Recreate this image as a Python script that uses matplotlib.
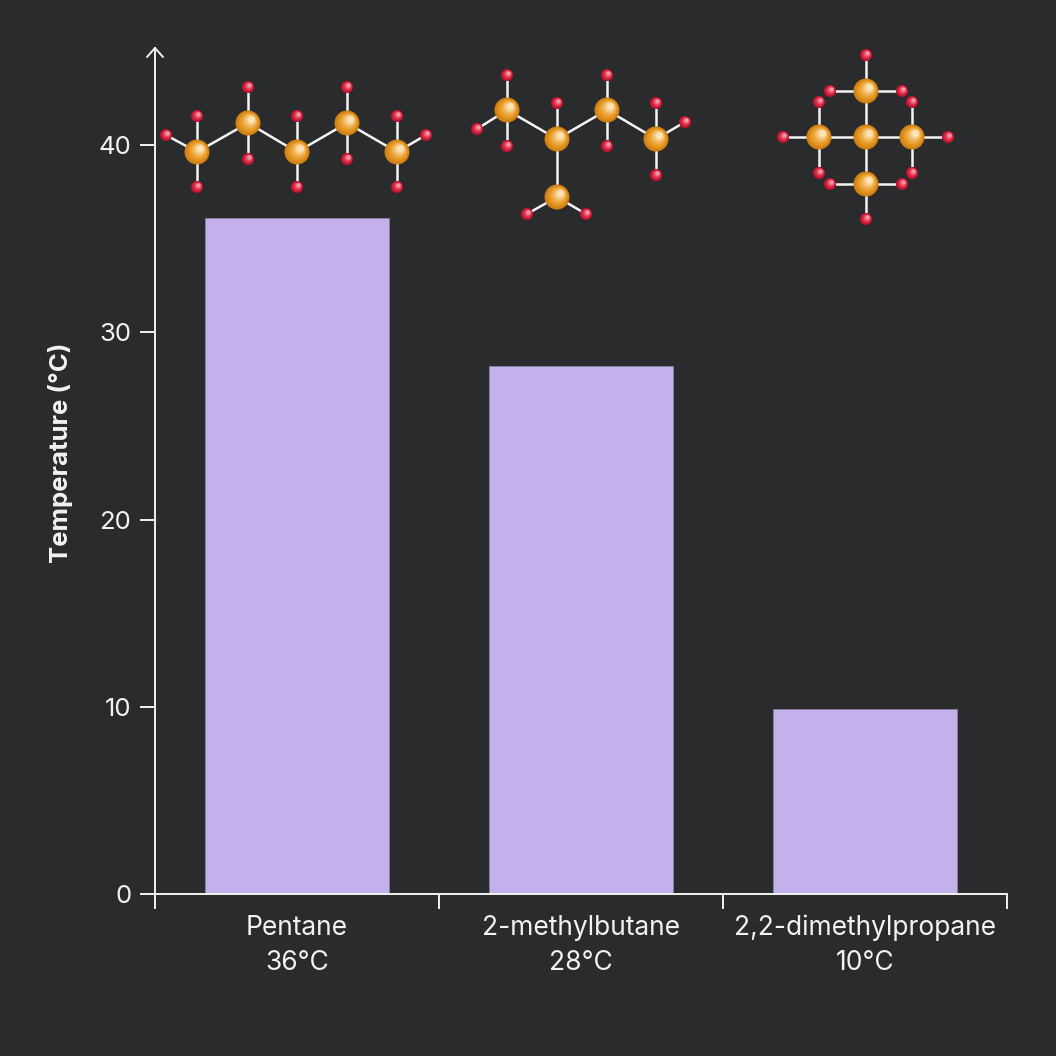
import numpy as np
import matplotlib
matplotlib.use("Agg")
import matplotlib.pyplot as plt
from matplotlib.patches import Circle
from matplotlib.colors import to_rgb

# data
compounds = ["Pentane", "2-methylbutane", "2,2-dimethylpropane"]
boiling_c = [36.1, 28.2, 9.9]
labels_c = ["36°C", "28°C", "10°C"]
y_ticks = [0, 10, 20, 30, 40]

BG = "#2a2b2d"
BAR = "#c4b1ec"
FG = "#f2f2f2"

plt.rcParams["font.family"] = ["Inter", "DejaVu Sans"]

W = 1056
fig = plt.figure(figsize=(10.56, 10.56), dpi=100, facecolor=BG)
ax = fig.add_axes([155 / W, 1 - 894 / W, 852 / W, 846 / W], facecolor=BG)

x = np.arange(len(compounds))
ax.bar(x, boiling_c, width=0.645, color=BAR, edgecolor="#8a80a0", linewidth=0.6, zorder=2)

ax.set_xlim(-0.5, len(compounds) - 0.5)
ax.set_ylim(0, 45.2)

for side in ["top", "right"]:
    ax.spines[side].set_visible(False)
for side in ["left", "bottom"]:
    ax.spines[side].set_color(FG)
    ax.spines[side].set_linewidth(1.4)

ax.set_yticks(y_ticks)
ax.tick_params(axis="y", colors=FG, labelcolor=FG, length=11, width=1.4, pad=6, labelsize=18.5)
ax.set_xticks(np.arange(len(compounds) + 1) - 0.5)
ax.set_xticklabels([])
ax.tick_params(axis="x", which="major", colors=FG, length=11, width=1.4)
ax.set_xticks(x, minor=True)
ax.set_xticklabels([f"{c}\n{t}" for c, t in zip(compounds, labels_c)], minor=True)
ax.tick_params(axis="x", which="minor", length=0, pad=15, labelsize=19, labelcolor=FG)
for t in ax.get_xticklabels(minor=True):
    t.set_linespacing(1.45)

ax.set_ylabel("Temperature (°C)", color=FG, fontsize=18.5, fontweight="bold")
ax.yaxis.set_label_coords(-0.096, 0.521)

# overlay in figure pixels for the arrow head and the molecules
ov = fig.add_axes([0, 0, 1, 1], facecolor="none")
ov.set_xlim(0, W)
ov.set_ylim(0, W)
ov.axis("off")

ov.plot([147, 155, 163], [W - 57, W - 48, W - 57], color=FG, lw=1.4, solid_capstyle="round")


def sphere(cx, cy, r, dark, mid, light, n=20):
    dark, mid, light = np.array(to_rgb(dark)), np.array(to_rgb(mid)), np.array(to_rgb(light))
    ov.add_patch(Circle((cx, cy), r, color=dark, zorder=5, lw=0))
    for i in range(n):
        t = i / (n - 1)
        rr = r * (0.94 - 0.7 * t)
        ox = 0.28 * r * t
        oy = 0.28 * r * t
        if t < 0.35:
            c = dark + (mid - dark) * (t / 0.35)
        else:
            c = mid + (light - mid) * ((t - 0.35) / 0.65) ** 1.3
        ov.add_patch(Circle((cx + ox, cy + oy), rr, color=c, zorder=5, lw=0))


# molecule layouts: carbon offsets (px, y down), C-C bonds, H offsets with parent carbon
pentane_c = [(-100, 15), (-49, -14), (0, 15), (50, -14), (100, 15)]
pentane_cc = [(0, 1), (1, 2), (2, 3), (3, 4)]
pentane_h = [(-100, -21, 0), (-100, 50, 0), (-131, -2, 0), (-49, -50, 1), (-49, 22, 1),
             (0, -21, 2), (0, 50, 2), (50, -50, 3), (50, 22, 3), (100, -21, 4), (100, 50, 4),
             (129, -2, 4)]

mbutane_c = [(-74, -27), (-24, 2), (26, -27), (75, 2), (-24, 60)]
mbutane_cc = [(0, 1), (1, 2), (2, 3), (1, 4)]
mbutane_h = [(-74, -62, 0), (-74, 9, 0), (-104, -8, 0), (-24, -34, 1), (26, -62, 2),
             (26, 9, 2), (75, -34, 3), (75, 38, 3), (104, -15, 3), (-54, 77, 4), (5, 77, 4)]

neo_c = [(1, 0), (1, -46), (-46, 0), (47, 0), (1, 47)]
neo_cc = [(0, 1), (0, 2), (0, 3), (0, 4)]
neo_h = [(1, -82, 1), (-35, -46, 1), (37, -46, 1), (-82, 0, 2), (-46, -35, 2), (-46, 36, 2),
         (83, 0, 3), (47, -35, 3), (47, 36, 3), (1, 82, 4), (-35, 47, 4), (37, 47, 4)]

molecules = [(pentane_c, pentane_cc, pentane_h),
             (mbutane_c, mbutane_cc, mbutane_h),
             (neo_c, neo_cc, neo_h)]

mol_y = 137  # px from top
for i, (cs, ccs, hs) in enumerate(molecules):
    mx = ax.transData.transform((x[i], 0))[0]
    pts = [(mx + dx, W - (mol_y + dy)) for dx, dy in cs]
    for a, b in ccs:
        ov.plot([pts[a][0], pts[b][0]], [pts[a][1], pts[b][1]], color="#f4f4f4", lw=1.8, zorder=3)
    for dx, dy, p in hs:
        hx, hy = mx + dx, W - (mol_y + dy)
        ov.plot([pts[p][0], hx], [pts[p][1], hy], color="#f4f4f4", lw=1.8, zorder=3)
        sphere(hx, hy, 6, "#b51230", "#dc2440", "#f49aa6")
    for px, py in pts:
        sphere(px, py, 12.5, "#cf8012", "#ea9c28", "#fbe3b4")

fig.savefig("out.png", dpi=100, facecolor=BG)
